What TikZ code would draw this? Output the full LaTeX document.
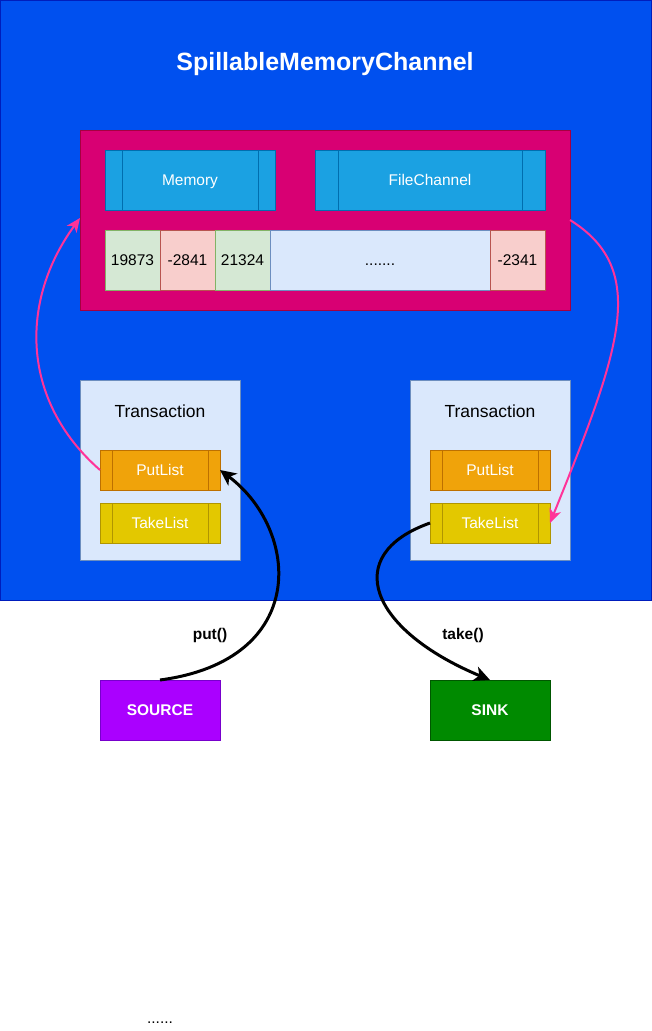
\documentclass[tikz,border=0pt]{standalone}
\usepackage{fontspec}
\setmainfont{Liberation Sans}
\usetikzlibrary{arrows.meta,calc}
\definecolor{bgblue}{HTML}{0050EF}
\definecolor{bgblueS}{HTML}{001DBC}
\definecolor{mag}{HTML}{D80073}
\definecolor{magS}{HTML}{A50040}
\definecolor{proc}{HTML}{1BA1E2}
\definecolor{procS}{HTML}{006EAF}
\definecolor{cgreen}{HTML}{D5E8D4}
\definecolor{cgreenS}{HTML}{82B366}
\definecolor{cred}{HTML}{F8CECC}
\definecolor{credS}{HTML}{B85450}
\definecolor{lblue}{HTML}{DAE8FC}
\definecolor{lblueS}{HTML}{6C8EBF}
\definecolor{orng}{HTML}{F0A30A}
\definecolor{orngS}{HTML}{BD7000}
\definecolor{yell}{HTML}{E3C800}
\definecolor{yellS}{HTML}{B09500}
\definecolor{purp}{HTML}{AA00FF}
\definecolor{purpS}{HTML}{7700CC}
\definecolor{sgreen}{HTML}{008A00}
\definecolor{sgreenS}{HTML}{005700}
\definecolor{pink}{HTML}{FF3399}
\begin{document}
\begin{tikzpicture}[x=1pt,y=-1pt,
  every node/.style={inner sep=0pt,outer sep=0pt,line width=1pt,text height=11pt,text depth=0pt,font=\fontsize{15.5}{18}\selectfont},
  procbox/.style 2 args={draw=#2,fill=#1,text=white,
    path picture={\draw[line width=1pt,draw=#2]
      ($(path picture bounding box.north west)!0.1!(path picture bounding box.north east)$) --
      ($(path picture bounding box.south west)!0.1!(path picture bounding box.south east)$)
      ($(path picture bounding box.north west)!0.9!(path picture bounding box.north east)$) --
      ($(path picture bounding box.south west)!0.9!(path picture bounding box.south east)$);}},
  cell/.style 2 args={draw=#2,fill=#1,minimum width=55pt,minimum height=60pt},
  trbox/.style={draw=lblueS,fill=lblue,minimum width=160pt,minimum height=180pt},
  listbox/.style={minimum width=120pt,minimum height=40pt},
  endbox/.style={minimum width=120pt,minimum height=60pt,text=white,font=\fontsize{15.5}{18}\selectfont\bfseries},
  pinkarrow/.style={draw=pink,line width=2pt,-{Stealth[length=14pt,width=12pt,inset=4pt]}},
  blackarrow/.style={draw=black,line width=3pt,-{Stealth[length=16pt,width=15pt,inset=4.5pt]}},
  lbl/.style={font=\fontsize{15.5}{18}\selectfont\bfseries}
]
\useasboundingbox[fill=white] (0,0) rectangle (651,1031);
% main container
\node[draw=bgblueS,fill=bgblue,minimum width=651pt,minimum height=600pt,text height=,text depth=] (main) at (325.5,300) {};
\node[text=white,text height=18pt,font=\fontsize{25}{30}\selectfont\bfseries] (title) at (325,61) {SpillableMemoryChannel};
% magenta container
\node[draw=magS,fill=mag,minimum width=490pt,minimum height=180pt] (magbox) at (325,220) {};
\node[procbox={proc}{procS},minimum width=170pt,minimum height=60pt] (memory) at (190,180) {Memory};
\node[procbox={proc}{procS},minimum width=230pt,minimum height=60pt] (filech) at (430,180) {FileChannel};
\node[cell={cgreen}{cgreenS}] (c1) at (132.5,260) {19873};
\node[cell={cred}{credS}] (c2) at (187.5,260) {-2841};
\node[cell={cgreen}{cgreenS}] (c3) at (242.5,260) {21324};
\node[draw=lblueS,fill=lblue,minimum width=220pt,minimum height=60pt] (c4) at (380,260) {.......};
\node[cell={cred}{credS}] (c5) at (517.5,260) {-2341};
% transactions
\node[trbox] (trL) at (160,470) {};
\node[font=\fontsize{17.5}{20}\selectfont,text height=12.5pt] (trLt) at (160,411) {Transaction};
\node[listbox,procbox={orng}{orngS}] (putL) at (160,470) {PutList};
\node[listbox,procbox={yell}{yellS}] (takeL) at (160,523) {TakeList};
\node[trbox] (trR) at (490,470) {};
\node[font=\fontsize{17.5}{20}\selectfont,text height=12.5pt] (trRt) at (490,411) {Transaction};
\node[listbox,procbox={orng}{orngS}] (putR) at (490,470) {PutList};
\node[listbox,procbox={yell}{yellS}] (takeR) at (490,523) {TakeList};
% source / sink
\node[endbox,draw=purpS,fill=purp] (source) at (160,710) {SOURCE};
\node[endbox,draw=sgreenS,fill=sgreen] (sink) at (490,710) {SINK};
\node[lbl] (putlbl) at (210,634) {put()};
\node[lbl] (takelbl) at (463,634) {take()};
\node (dots) at (160,1018) {......};
% connectors
\draw[pinkarrow] (putL.west) .. controls (20,400) and (20,300) .. ([yshift=2]magbox.west);
\draw[pinkarrow] (magbox.east) .. controls (650,270) and (620,350) .. (takeR.east);
\draw[blackarrow] (source.north) .. controls (310,660) and (300,530) .. (putL.east);
\draw[blackarrow] (takeR.west) .. controls (340,555) and (370,630) .. (sink.north);
\end{tikzpicture}
\end{document}
